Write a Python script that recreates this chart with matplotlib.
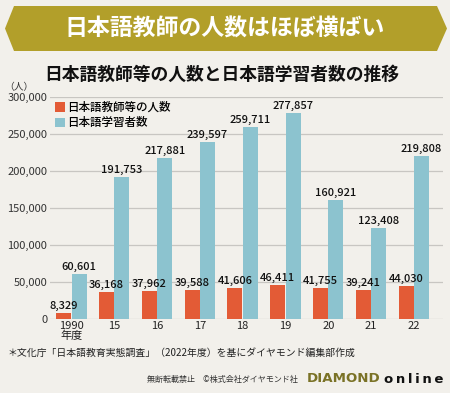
import numpy as np
import matplotlib
matplotlib.use('Agg')
import matplotlib.pyplot as plt
from matplotlib.patches import Polygon, Patch
from matplotlib import font_manager

plt.rcParams['font.family'] = ['Noto Sans CJK JP', 'DejaVu Sans']

### Data

years = ['1990\n年度', '15', '16', '17', '18', '19', '20', '21', '22']
teachers = [8329, 36168, 37962, 39588, 41606, 46411, 41755, 39241, 44030]
learners = [60601, 191753, 217881, 239597, 259711, 277857, 160921, 123408, 219808]
series_names = ['日本語教師等の人数', '日本語学習者数']
y_ticks = [0, 50000, 100000, 150000, 200000, 250000, 300000]

### Style

bg = '#F2F0EB'
orange = '#E35B36'
blue = '#8CC3CF'
gold = '#B29F2A'

W, H = 450, 393

def fx(px):
   return px / W

def fy(py):
   return 1 - py / H

fig = plt.figure(figsize=(4.5, 3.93), dpi=100, facecolor=bg)

# Banner
banner = Polygon([(fx(5), fy(28.5)), (fx(14), fy(6)), (fx(437), fy(6)),
                  (fx(447), fy(28.5)), (fx(437), fy(51)), (fx(14), fy(51))],
                 closed=True, transform=fig.transFigure, facecolor=gold, edgecolor='none')
fig.patches.append(banner)
fig.text(fx(225), fy(29), '日本語教師の人数はほぼ横ばい', color='white', fontsize=16.5,
         fontweight='bold', ha='center', va='center')

fig.text(fx(222), fy(75), '日本語教師等の人数と日本語学習者数の推移', color='#111111',
         fontsize=12.8, fontweight='bold', ha='center', va='center')
fig.text(fx(4), fy(87), '（人）', color='#333333', fontsize=7, ha='left', va='center')

### Chart

ax = fig.add_axes([fx(50), fy(319), fx(443) - fx(50), fy(97) - fy(319)])
ax.set_facecolor(bg)

x = np.arange(len(years))
bw = 0.35
off = 0.18
b1 = ax.bar(x - off, teachers, width=bw, color=orange, zorder=3)
b2 = ax.bar(x + off, learners, width=bw, color=blue, zorder=3)

for bars, vals in ((b1, teachers), (b2, learners)):
   for rect, v in zip(bars, vals):
      ax.annotate('{:,}'.format(v), (rect.get_x() + rect.get_width() / 2, v),
                  xytext=(0, 1.5), textcoords='offset points', ha='center', va='bottom',
                  fontsize=8, fontweight='medium', color='#111111', zorder=4)

ax.set_xlim(-0.5, 8.68)
ax.set_ylim(0, 300000)
ax.set_yticks(y_ticks)
ax.set_yticklabels(['{:,}'.format(t) for t in y_ticks], fontsize=8, color='#333333')
ax.set_xticks(x)
ax.set_xticklabels(years, fontsize=8, color='#222222', linespacing=0.95, va='top')
ax.tick_params(length=0, pad=1.5)
ax.tick_params(axis='y', pad=2)
ax.grid(axis='y', color='#C8C6C2', linewidth=0.9, zorder=0)
for s in ax.spines.values():
   s.set_visible(False)

handles = [Patch(facecolor=orange), Patch(facecolor=blue)]
ax.legend(handles, series_names, loc='upper left', bbox_to_anchor=(fx(55), fy(101)),
          bbox_transform=fig.transFigure, frameon=False,
          handlelength=0.9, handleheight=0.9, handletextpad=0.15, labelspacing=0.2,
          borderaxespad=0, borderpad=0, prop={'weight': 'medium', 'size': 8.3})

### Footer

fig.text(fx(7), fy(353), '＊文化庁「日本語教育実態調査」（2022年度）を基にダイヤモンド編集部作成',
         fontsize=7.1, color='#222222', ha='left', va='center')
fig.text(fx(298), fy(379), '無断転載禁止　©株式会社ダイヤモンド社', fontsize=5.8,
         color='#333333', ha='right', va='center')

# Narrow font for the logo if there is one
names = {f.name for f in font_manager.fontManager.ttflist}
if 'Liberation Sans Narrow' in names:
   logo_family, logo_size = 'Liberation Sans Narrow', 13.2
else:
   logo_family, logo_size = 'DejaVu Sans', 9.6
fig.text(fx(307), fy(379), 'DIAMOND', family=logo_family, fontweight='bold',
         fontsize=logo_size, color='#7A7226', ha='left', va='center')
fig.text(fx(443), fy(379.5), 'o\u2009n\u2009l\u2009i\u2009n\u2009e', family='DejaVu Sans',
         fontweight='bold', fontsize=9.5, color='#111111', ha='right', va='center')

fig.savefig('out.png', dpi=100, facecolor=bg)
